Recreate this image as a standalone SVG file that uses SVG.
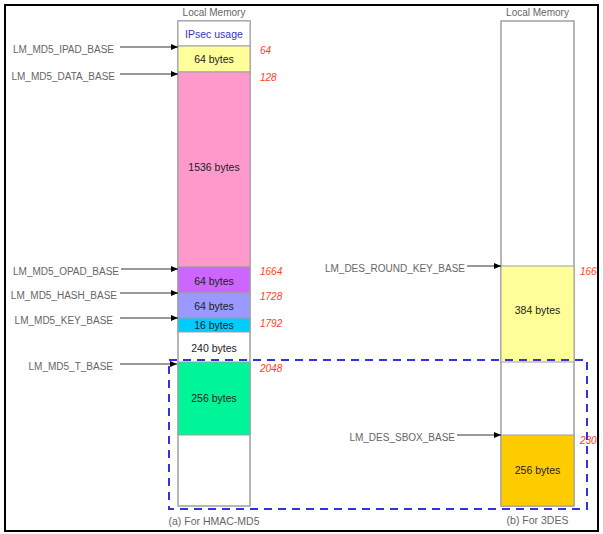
<svg xmlns="http://www.w3.org/2000/svg" width="603" height="534" viewBox="0 0 603 534">
<defs>
<marker id="ah" markerWidth="7" markerHeight="6" refX="7" refY="3" orient="auto" markerUnits="userSpaceOnUse">
<path d="M0,0 L7,3 L0,6 Z" fill="#000"/>
</marker>
<style>
.lbl{font-family:"Liberation Sans",Arial,sans-serif;font-size:10px;fill:#666;}
.in{font-family:"Liberation Sans",Arial,sans-serif;font-size:10.5px;fill:#222;text-anchor:middle;}
.cap{font-family:"Liberation Sans",Arial,sans-serif;font-size:10.5px;fill:#666;text-anchor:middle;}
.red{font-family:"Liberation Sans",Arial,sans-serif;font-size:10px;fill:#ff4020;font-style:italic;}
.col{fill:#fff;stroke:#a0a0a0;stroke-width:1.5;}
.seg{stroke:#a0a0a0;stroke-width:1;}
.arr{stroke:#333;stroke-width:1;fill:none;marker-end:url(#ah);}
</style>
</defs>
<rect x="0" y="0" width="603" height="534" fill="#fff"/>

<g id="left-column">
<text class="lbl" x="214" y="15.5" text-anchor="middle">Local Memory</text>
<rect class="col" x="178" y="21" width="72" height="485"/>
<g id="ipsec"><rect class="seg" x="178" y="21" width="72" height="25" fill="#fff"/><text class="in" x="214" y="38" style="fill:#3333cc">IPsec usage</text></g>
<g id="ipad"><rect class="seg" x="178" y="46" width="72" height="26" fill="#ffff99"/><text class="in" x="214" y="63">64 bytes</text></g>
<g id="data"><rect class="seg" x="178" y="72" width="72" height="195" fill="#ff99cc" stroke="#cc6699"/><text class="in" x="214" y="171">1536 bytes</text></g>
<g id="opad"><rect class="seg" x="178" y="267" width="72" height="26" fill="#cc66ff"/><text class="in" x="214" y="285">64 bytes</text></g>
<g id="hash"><rect class="seg" x="178" y="293" width="72" height="25" fill="#9999ff"/><text class="in" x="214" y="310">64 bytes</text></g>
<g id="key"><rect class="seg" x="178" y="318" width="72" height="14" fill="#00ccff"/><text class="in" x="214" y="329">16 bytes</text></g>
<g id="gap"><text class="in" x="214" y="351.5">240 bytes</text></g>
<g id="tbl"><rect class="seg" x="178" y="362" width="72" height="73" fill="#00f598"/><text class="in" x="214" y="402">256 bytes</text></g>
<text class="cap" x="214" y="525">(a) For HMAC-MD5</text>
</g>

<g id="right-column">
<text class="lbl" x="537.5" y="15.5" text-anchor="middle">Local Memory</text>
<rect class="col" x="501" y="21" width="73" height="485"/>
<g id="roundkey"><rect class="seg" x="501" y="266" width="73" height="96" fill="#ffff99"/><text class="in" x="537.5" y="314">384 bytes</text></g>
<g id="sbox"><rect class="seg" x="501" y="435" width="73" height="71" fill="#ffcc00"/><text class="in" x="537.5" y="474">256 bytes</text></g>
<text class="cap" x="537.5" y="524">(b) For 3DES</text>
</g>

<g id="offsets">
<text class="red" x="260" y="54">64</text>
<text class="red" x="260" y="80.5">128</text>
<text class="red" x="260" y="275">1664</text>
<text class="red" x="260" y="300">1728</text>
<text class="red" x="260" y="326.5">1792</text>
<text class="red" x="260" y="371.5">2048</text>
<text class="red" x="580" y="275">1664</text>
<text class="red" x="580" y="444">2304</text>
</g>

<g id="labels">
<text class="lbl" x="114" y="53" text-anchor="end">LM_MD5_IPAD_BASE</text>
<text class="lbl" x="115" y="80" text-anchor="end">LM_MD5_DATA_BASE</text>
<text class="lbl" x="119" y="275" text-anchor="end">LM_MD5_OPAD_BASE</text>
<text class="lbl" x="117" y="299" text-anchor="end">LM_MD5_HASH_BASE</text>
<text class="lbl" x="113" y="324" text-anchor="end">LM_MD5_KEY_BASE</text>
<text class="lbl" x="113" y="370" text-anchor="end">LM_MD5_T_BASE</text>
<text class="lbl" x="465" y="272" text-anchor="end">LM_DES_ROUND_KEY_BASE</text>
<text class="lbl" x="455" y="441" text-anchor="end">LM_DES_SBOX_BASE</text>
</g>

<g id="connectors">
<line class="arr" x1="120" y1="47" x2="178" y2="47"/>
<line class="arr" x1="120" y1="74" x2="178" y2="74"/>
<line class="arr" x1="121" y1="269" x2="178" y2="269"/>
<line class="arr" x1="120" y1="293" x2="178" y2="293"/>
<line class="arr" x1="120" y1="318" x2="178" y2="318"/>
<line class="arr" x1="120" y1="364" x2="177" y2="364"/>
<line class="arr" x1="467" y1="266" x2="501" y2="266"/>
<line class="arr" x1="457" y1="435" x2="501" y2="435"/>
</g>

<g id="dashed-region">
<rect x="169" y="360" width="418" height="149" fill="none" stroke="#3333dd" stroke-width="2" stroke-dasharray="8,6"/>
</g>
<rect x="598" y="0" width="5" height="534" fill="#fff"/>
<rect x="5" y="5" width="593" height="526" fill="none" stroke="#000" stroke-width="2"/>
</svg>
